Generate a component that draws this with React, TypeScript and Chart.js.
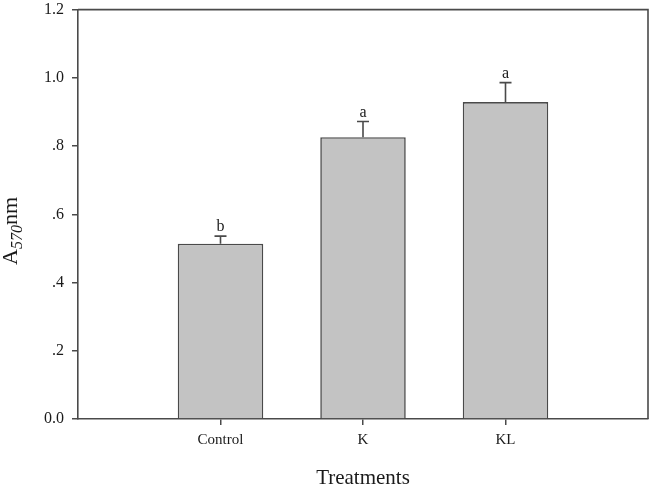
import React, { useEffect, useRef } from 'react';
import { Chart, registerables } from 'chart.js';

Chart.register(...registerables);

// blank slots at both ends so the three bars sit at 1/4, 2/4, 3/4 of the axis
const categories = ['', 'Control', 'K', 'KL', ''];
const means = [null, 0.514, 0.826, 0.929, null];
const errors = [0, 0.022, 0.046, 0.057, 0];
const letters = ['', 'b', 'a', 'a', ''];
const yTicks = [0, 0.2, 0.4, 0.6, 0.8, 1.0, 1.2];

const SERIF = '"Liberation Serif", "Times New Roman", serif';
const INK = '#4a4a4a';
const TEXT = '#1a1a1a';

// the canvas is a bit larger than the page and shifted up, so the plot
// frame can sit as close to the top as in the original figure
const SHIFT_Y = 8;
const EXTRA_W = 3;

const fmtTick = (v: number) => {
  const s = v.toFixed(1);
  return v === 0 || v >= 1 ? s : s.replace(/^0/, '');
};

const BarChart: React.FC = () => {
  const canvasRef = useRef<HTMLCanvasElement | null>(null);
  const chartInstance = useRef<Chart | null>(null);

  useEffect(() => {
    document.body.style.margin = '0';
    const canvas = canvasRef.current;
    if (!canvas) return;
    const ctx = canvas.getContext('2d');
    if (!ctx) return;

    if (chartInstance.current) chartInstance.current.destroy();

    chartInstance.current = new Chart(ctx, {
      type: 'bar',
      data: {
        labels: categories,
        datasets: [
          {
            data: means as any,
            backgroundColor: '#c3c3c3',
            borderColor: INK,
            borderWidth: 1.6,
            barPercentage: 0.6,
            categoryPercentage: 1,
          },
        ],
      },
      options: {
        animation: false,
        responsive: true,
        maintainAspectRatio: false,
        plugins: {
          legend: { display: false },
          tooltip: { enabled: false },
        },
        layout: { padding: { left: 0, right: 0, top: 1, bottom: 0 } },
        scales: {
          x: {
            offset: false,
            afterFit(scale) {
              scale.height = 69;
            },
            grid: {
              offset: false,
              drawOnChartArea: false,
              tickLength: 6,
              lineWidth: 1.5,
              color: (c: any) => (categories[c.index] ? INK : 'rgba(0,0,0,0)'),
            },
            border: { display: true, color: INK, width: 1.6 },
            ticks: {
              color: TEXT,
              font: { family: SERIF, size: 15 },
              padding: 6,
              autoSkip: false,
              maxRotation: 0,
            },
          },
          y: {
            min: 0,
            max: 1.2,
            afterFit(scale) {
              scale.width = 78;
            },
            afterBuildTicks(scale) {
              scale.ticks = yTicks.map((v) => ({ value: v }));
            },
            grid: {
              drawOnChartArea: false,
              tickLength: 6,
              lineWidth: 1.5,
              color: INK,
            },
            border: { display: true, color: INK, width: 1.6 },
            ticks: {
              color: TEXT,
              font: { family: SERIF, size: 16 },
              padding: 8,
              callback: (v) => fmtTick(Number(v)),
            },
          },
        },
      },
      plugins: [
        {
          id: 'errorsAndFrame',
          afterDatasetsDraw(chart) {
            const { ctx, chartArea, scales } = chart;
            const xs = scales.x;
            const ys = scales.y;
            ctx.save();

            // top and right frame lines
            ctx.strokeStyle = INK;
            ctx.lineWidth = 1.6;
            ctx.beginPath();
            ctx.moveTo(chartArea.left, chartArea.top);
            ctx.lineTo(chartArea.right, chartArea.top);
            ctx.lineTo(chartArea.right, chartArea.bottom);
            ctx.stroke();

            // error bars and significance letters
            means.forEach((m, i) => {
              if (m == null) return;
              const x = xs.getPixelForValue(i);
              const yTop = ys.getPixelForValue(m);
              const yErr = ys.getPixelForValue(m + errors[i]);
              ctx.beginPath();
              ctx.moveTo(x, yTop);
              ctx.lineTo(x, yErr);
              ctx.moveTo(x - 6, yErr);
              ctx.lineTo(x + 6, yErr);
              ctx.stroke();

              ctx.fillStyle = TEXT;
              ctx.font = `16px ${SERIF}`;
              ctx.textAlign = 'center';
              ctx.textBaseline = 'alphabetic';
              ctx.fillText(letters[i], x, yErr - 5);
            });

            // x axis title
            ctx.fillStyle = TEXT;
            ctx.font = `21px ${SERIF}`;
            ctx.textAlign = 'center';
            ctx.textBaseline = 'alphabetic';
            ctx.fillText('Treatments', (chartArea.left + chartArea.right) / 2, 484 + SHIFT_Y);

            // y axis title with subscript
            ctx.translate(17, 265 + SHIFT_Y);
            ctx.rotate(-Math.PI / 2);
            ctx.textAlign = 'left';
            ctx.font = `22px ${SERIF}`;
            ctx.fillText('A', 0, 0);
            let off = ctx.measureText('A').width;
            ctx.font = `italic 16px ${SERIF}`;
            ctx.fillText('570', off, 5);
            off += ctx.measureText('570').width;
            ctx.font = `22px ${SERIF}`;
            ctx.fillText('nm', off, 0);

            ctx.restore();
          },
        },
      ],
    });

    return () => {
      if (chartInstance.current) {
        chartInstance.current.destroy();
        chartInstance.current = null;
      }
    };
  }, []);

  return (
    <div style={{ width: '651px', height: '488px', position: 'relative', overflow: 'hidden' }}>
      <div
        style={{
          position: 'absolute',
          left: 0,
          top: -SHIFT_Y,
          width: 651 + EXTRA_W + 'px',
          height: 488 + SHIFT_Y + 'px',
        }}
      >
        <canvas ref={canvasRef}></canvas>
      </div>
    </div>
  );
};

export default function App() {
  return <BarChart />;
}
